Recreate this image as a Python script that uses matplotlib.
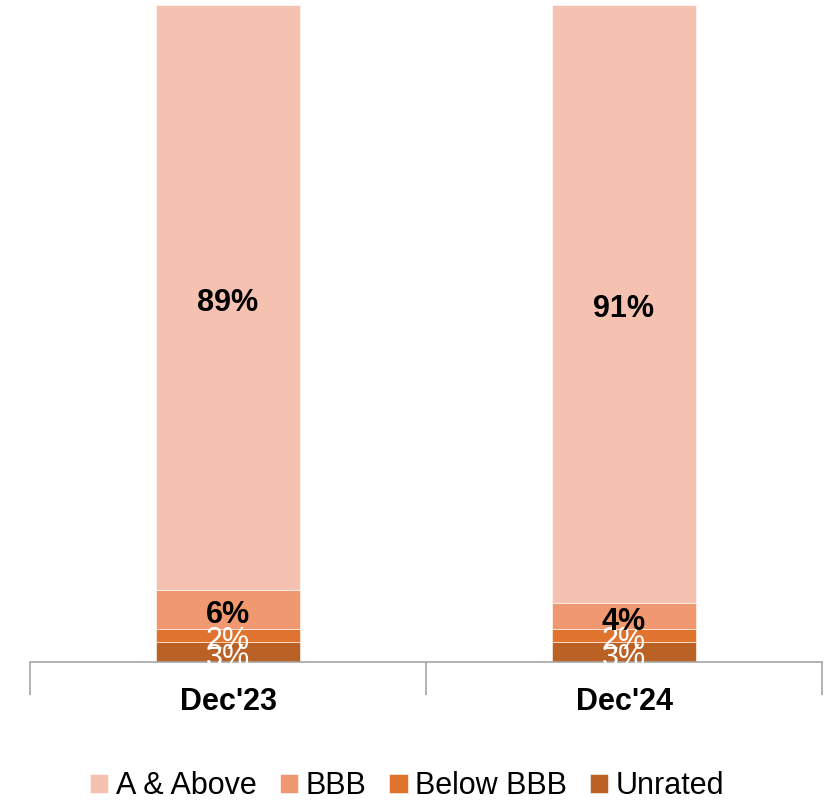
import matplotlib
matplotlib.use("Agg")
import matplotlib.pyplot as plt
import numpy as np

plt.rcParams['font.family'] = ['Liberation Sans', 'DejaVu Sans']

categories = ["Dec'23", "Dec'24"]
series_names = ["A & Above", "BBB", "Below BBB", "Unrated"]
a_above = [89, 91]
bbb = [6, 4]
below_bbb = [2, 2]
unrated = [3, 3]

colors = {"A & Above": "#F5C2B1", "BBB": "#F09870", "Below BBB": "#E0742E", "Unrated": "#BA6125"}
label_colors = {"A & Above": "black", "BBB": "black", "Below BBB": "white", "Unrated": "white"}
label_weights = {"A & Above": "bold", "BBB": "bold", "Below BBB": "normal", "Unrated": "normal"}

W, H = 831, 802
fig = plt.figure(figsize=(W / 100, H / 100), dpi=100)
ax = fig.add_axes([30 / W, (H - 662) / H, (822 - 30) / W, (662 - 5) / H])

x = np.arange(len(categories))
stack_order = [("Unrated", unrated), ("Below BBB", below_bbb), ("BBB", bbb), ("A & Above", a_above)]
bottom = np.zeros(len(categories))
handles = {}
for name, vals in stack_order:
    vals = np.array(vals, dtype=float)
    bars = ax.bar(x, vals, width=0.365, bottom=bottom, color=colors[name],
                  edgecolor='white', linewidth=0.4, label=name)
    handles[name] = bars
    for xi, v, b in zip(x, vals, bottom):
        ax.annotate(f"{int(v)}%", xy=(xi, b + v / 2), xytext=(0, -4),
                    textcoords='offset points', ha='center', va='center',
                    fontsize=22, color=label_colors[name], fontweight=label_weights[name])
    bottom += vals

ax.set_xlim(-0.5, 1.5)
ax.set_ylim(0, 100)
for s in ['top', 'right', 'left']:
    ax.spines[s].set_visible(False)
ax.spines['bottom'].set_color('#A6A6A6')
ax.spines['bottom'].set_linewidth(1.2)
ax.set_yticks([])
ax.set_xticks(x)
ax.set_xticklabels(categories, fontsize=22, fontweight='bold')
ax.tick_params(axis='x', which='major', length=0, pad=18)
ax.set_xticks([-0.5, 0.5, 1.5], minor=True)
ax.tick_params(axis='x', which='minor', length=24, color='#A6A6A6', width=1.2)

leg_handles = [handles[n] for n in series_names]
fig.legend(leg_handles, series_names, loc='center', bbox_to_anchor=(0.49, (H - 786) / H),
           ncol=4, frameon=False, fontsize=22, handlelength=0.6, handleheight=0.6,
           handletextpad=0.25, columnspacing=0.75, borderaxespad=0)

fig.savefig("out.png", dpi=100)
